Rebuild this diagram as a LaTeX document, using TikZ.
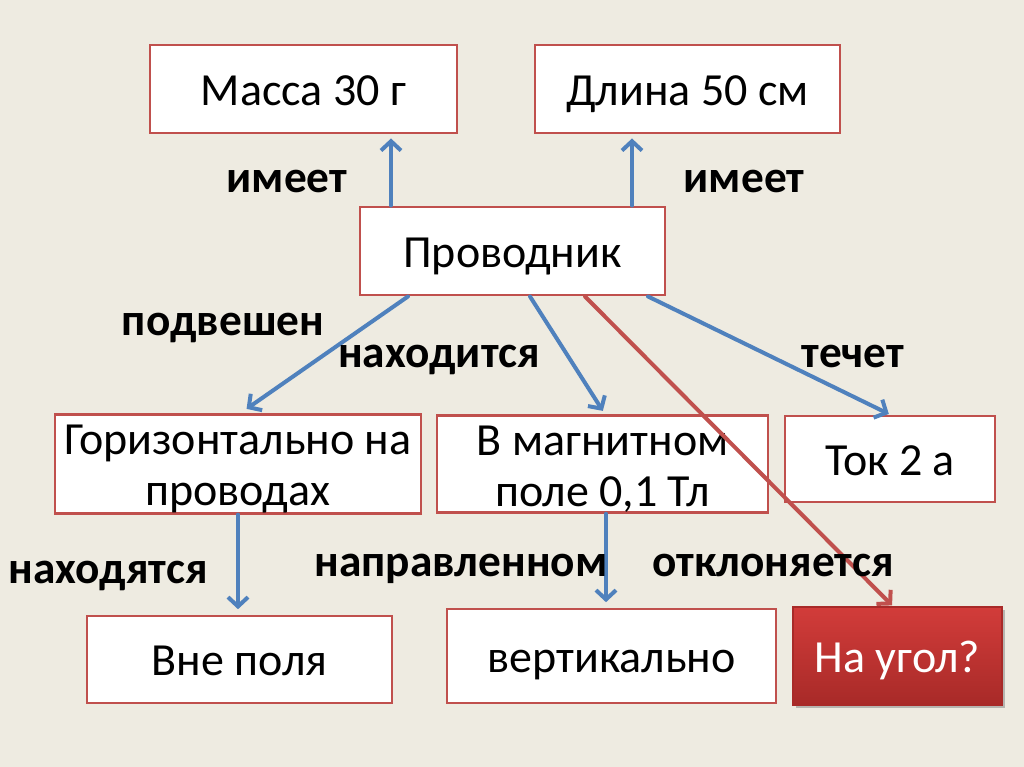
\documentclass[tikz,border=0pt]{standalone}
\usepackage{fontspec}
\setmainfont{Carlito}
\usetikzlibrary{arrows.meta,shadows,calc}
\definecolor{bg}{HTML}{EEEBE1}
\definecolor{boxred}{HTML}{C0504D}
\definecolor{arrblue}{HTML}{4F81BD}
\definecolor{redtop}{HTML}{D23C3A}
\definecolor{redbot}{HTML}{A82A28}
\tikzset{
  box/.style={draw=boxred, line width=2.2pt, fill=white, inner sep=0pt, align=center,
    font=\fontsize{34.5}{38}\selectfont},
  oneline/.style={text height=24pt, text depth=0pt},
  redbox/.style={draw=redbot, line width=1pt, inner sep=0pt, align=center, text=white,
    top color=redtop, bottom color=redbot,
    drop shadow={shadow xshift=2pt, shadow yshift=-2pt, fill=black!50, opacity=0.5},
    font=\fontsize{34.5}{38}\selectfont},
  lbl/.style={font=\fontsize{34}{38}\selectfont\bfseries, anchor=base, inner sep=0pt},
  arr/.style={draw=arrblue, line width=3pt, -{Straight Barb[length=7pt,width=15pt,line width=3pt]}, line cap=round},
  rarr/.style={draw=boxred, line width=3pt, -{Straight Barb[length=7pt,width=15pt,line width=3pt]}, line cap=round},
}
\begin{document}
\begin{tikzpicture}[x=0.75pt,y=-0.75pt]
\fill[bg] (0,0) rectangle (1024,767);
\useasboundingbox (0,0) rectangle (1024,767);

\node[box, oneline, minimum width=230.25pt, minimum height=66pt] (massa) at (303.5,89) {Масса 30 г};
\node[box, oneline, minimum width=228.75pt, minimum height=66pt] (dlina) at (687.5,89) {Длина 50 см};
\node[box, oneline, minimum width=228.75pt, minimum height=66pt] (prov) at (512.5,251) {Проводник};
\node[box, minimum width=274.5pt, minimum height=72pt] (gor) at (238,464) {\rule{0pt}{30pt}Горизонтально на\\проводах};
\node[box, minimum width=248.25pt, minimum height=72pt] (magn) at (602.5,464) {\rule{0pt}{30pt}В магнитном\\поле 0,1 Тл};
\node[box, oneline, minimum width=157.5pt, minimum height=64.5pt] (tok) at (890,459) {Ток 2 а};
\node[box, oneline, minimum width=228.75pt, minimum height=65.25pt] (vne) at (239.5,659.5) {Вне поля};
\node[box, oneline, minimum width=246.75pt, minimum height=70.5pt] (vert) at (611.5,656) {вертикально};
\node[redbox, oneline, minimum width=156.75pt, minimum height=73.5pt] (ugol) at (897.5,656) {На угол?};

\draw[arr, shorten >=3pt] (prov.north -| 391,0) -- (massa.south -| 391,0);
\draw[arr, shorten >=3pt] (prov.north -| 632,0) -- (dlina.south -| 632,0);
\draw[arr, shorten >=6pt] (prov.south -| 408,0) -- (gor.north -| 240,0);
\draw[arr, shorten >=3pt] (prov.south -| 530,0) -- (magn.north -| 605,0);
\draw[arr, shorten >=1pt] (prov.south -| 648,0) -- (tok.north -| 890,0);
\draw[rarr, shorten >=1pt] (prov.south -| 585,0) -- (ugol.north -| 893,0);
\draw[arr, shorten >=4pt] (gor.south -| 238,0) -- (vne.north -| 238,0);
\draw[arr, shorten >=4pt] (magn.south -| 606,0) -- (vert.north -| 606,0);

\node[lbl] (l1) at (287,192) {имеет};
\node[lbl] (l2) at (744,192) {имеет};
\node[lbl] (l3) at (223,335) {подвешен};
\node[lbl] (l4) at (439,367) {находится};
\node[lbl] (l5) at (853,367) {течет};
\node[lbl] (l6) at (108,583) {находятся};
\node[lbl] (l7) at (461,576) {направленном};
\node[lbl] (l8) at (773,576) {отклоняется};
\end{tikzpicture}
\end{document}
